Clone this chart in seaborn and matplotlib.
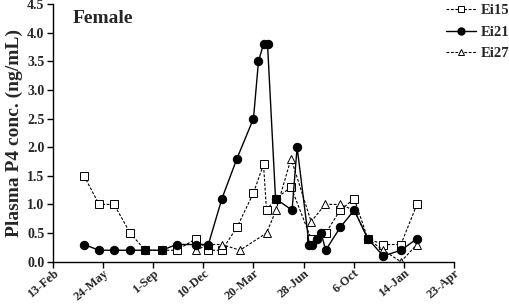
import matplotlib
matplotlib.use("Agg")
import matplotlib.pyplot as plt
import seaborn as sns
import pandas as pd
from matplotlib.lines import Line2D

# x values are days since 13-Feb
ei15_days = [62, 92, 122, 154, 184, 217, 247, 285, 310, 337, 367, 400, 420, 426, 444, 475,
             515, 544, 573, 601, 628, 659, 694, 726]
ei15_vals = [1.5, 1.0, 1.0, 0.5, 0.2, 0.2, 0.2, 0.4, 0.2, 0.2, 0.6, 1.2, 1.7, 0.9, 1.1, 1.3,
             0.4, 0.5, 0.9, 1.1, 0.4, 0.3, 0.3, 1.0]

ei21_days = [62, 92, 122, 154, 184, 217, 247, 285, 310, 337, 367, 400, 410, 420, 428, 444,
             477, 487, 511, 517, 526, 535, 544, 573, 601, 628, 659, 694, 726]
ei21_vals = [0.3, 0.2, 0.2, 0.2, 0.2, 0.2, 0.3, 0.3, 0.3, 1.1, 1.8, 2.5, 3.5, 3.8, 3.8, 1.1,
             0.9, 2.0, 0.3, 0.3, 0.4, 0.5, 0.2, 0.6, 0.9, 0.4, 0.1, 0.2, 0.4]

ei27_days = [285, 310, 337, 373, 426, 445, 475, 515, 543, 572, 601, 628, 659, 694, 726]
ei27_vals = [0.2, 0.3, 0.3, 0.2, 0.5, 0.9, 1.8, 0.7, 1.0, 1.0, 0.9, 0.4, 0.2, 0.0, 0.3]

tick_days = [0, 100, 200, 300, 400, 500, 600, 700, 800]
tick_labels = ["13-Feb", "24-May", "1-Sep", "10-Dec", "20-Mar", "28-Jun", "6-Oct", "14-Jan", "23-Apr"]
y_ticks = [0.0, 0.5, 1.0, 1.5, 2.0, 2.5, 3.0, 3.5, 4.0, 4.5]

sns.set_style("white")
plt.rcParams["font.family"] = ["Liberation Serif", "DejaVu Serif"]
plt.rcParams["font.weight"] = "bold"

fig = plt.figure(figsize=(5.09, 3.05), dpi=100)
ax = fig.add_axes([0.104, 0.142, 0.788, 0.845])

df15 = pd.DataFrame({"day": ei15_days, "val": ei15_vals})
df21 = pd.DataFrame({"day": ei21_days, "val": ei21_vals})
df27 = pd.DataFrame({"day": ei27_days, "val": ei27_vals})

dash = (0, (2.5, 1.5))
sns.lineplot(data=df15, x="day", y="val", ax=ax, color="black", linewidth=0.8,
             linestyle=dash, marker="s", markersize=6, markerfacecolor="white",
             markeredgecolor="black", markeredgewidth=0.7, sort=False, estimator=None)
sns.lineplot(data=df27, x="day", y="val", ax=ax, color="black", linewidth=0.8,
             linestyle=dash, marker="^", markersize=6, markerfacecolor="white",
             markeredgecolor="black", markeredgewidth=0.7, sort=False, estimator=None)
sns.lineplot(data=df21, x="day", y="val", ax=ax, color="black", linewidth=1.0,
             linestyle="-", marker="o", markersize=6, markerfacecolor="black",
             markeredgecolor="black", sort=False, estimator=None)

ax.set_xlim(0, 800)
ax.set_ylim(0, 4.5)
ax.set_xticks(tick_days)
ax.set_xticklabels(tick_labels, rotation=40, ha="right", rotation_mode="anchor",
                   fontsize=9, fontweight="bold")
ax.set_yticks(y_ticks)
ax.set_yticklabels([f"{v:.1f}" for v in y_ticks], fontsize=10, fontweight="bold")
ax.set_xlabel("")
ax.set_ylabel("Plasma P4 conc. (ng/mL)", fontsize=14, fontweight="bold", labelpad=3)

for s in ["top", "right"]:
    ax.spines[s].set_visible(False)
for s in ["left", "bottom"]:
    ax.spines[s].set_color("black")
    ax.spines[s].set_linewidth(1.0)
ax.tick_params(axis="y", direction="out", length=4, width=1, color="black", left=True, pad=2)
ax.tick_params(axis="x", direction="out", length=4, width=1, color="black", bottom=True, pad=0)

ax.text(0.05, 0.975, "Female", transform=ax.transAxes, fontsize=14, fontweight="bold",
        va="top", ha="left")

handles = [
    Line2D([], [], color="black", lw=0.8, linestyle=dash, marker="s", markersize=5,
           markerfacecolor="white", markeredgewidth=0.7),
    Line2D([], [], color="black", lw=1.0, marker="o", markersize=5, markerfacecolor="black"),
    Line2D([], [], color="black", lw=0.8, linestyle=dash, marker="^", markersize=5,
           markerfacecolor="white", markeredgewidth=0.7),
]
fig.legend(handles, ["Ei15", "Ei21", "Ei27"], loc="upper right",
           bbox_to_anchor=(1.015, 1.01), frameon=False,
           prop={"weight": "bold", "size": 10.5}, handlelength=2.0,
           labelspacing=0.55, handletextpad=0.35, borderaxespad=0.1)

fig.savefig("out.png", dpi=100)
